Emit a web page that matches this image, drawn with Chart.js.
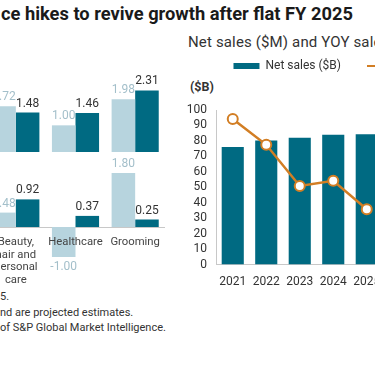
<!DOCTYPE html>
<html>
<head>
<meta charset="utf-8">
<script src="https://cdn.jsdelivr.net/npm/chart.js@4"></script>
<style>
  html, body { margin: 0; padding: 0; background: #fff; }
  body { width: 375px; height: 366px; overflow: hidden; position: relative; font-family: Roboto, "Noto Sans", sans-serif; color: #222; }
  .abs { position: absolute; white-space: nowrap; }
  #title { left: 1px; top: 3px; font-size: 18.3px; font-weight: 700; color: #1a1a1a; }
  #subtitle { left: 188px; top: 33px; font-size: 15px; letter-spacing: 0.15px; color: #333; }
  #unit { left: 190px; top: 79px; font-size: 12.5px; font-weight: 700; color: #333; }
  .note { left: 0; font-size: 11px; color: #333; }
  #topWrap { left: -14px; top: 60px; width: 179px; height: 92px; }
  #botWrap { left: -14px; top: 155px; width: 179px; height: 140px; }
  #rightWrap { left: 178px; top: 34px; width: 390px; height: 265px; }
</style>
</head>
<body>
<div id="title" class="abs">ce hikes to revive growth after flat FY 2025</div>
<div id="subtitle" class="abs">Net sales ($M) and YOY sales growth (%)</div>
<div id="unit" class="abs">($B)</div>
<div class="abs note" style="top:290px">5.</div>
<div class="abs note" style="top:305.5px">nd are projected estimates.</div>
<div class="abs note" style="top:321px">of S&amp;P Global Market Intelligence.</div>

<div id="topWrap" class="abs"><canvas id="topChart"></canvas></div>
<div id="botWrap" class="abs"><canvas id="botChart"></canvas></div>
<div id="rightWrap" class="abs"><canvas id="salesChart"></canvas></div>

<script>
// segment data (light = FY2025, dark = projection)
const segments = [['Beauty,', 'hair and', 'personal', 'care'], 'Healthcare', 'Grooming'];
const topLight = [1.72, 1.00, 1.98];
const topDark = [1.48, 1.46, 2.31];
const botLight = [0.48, -1.00, 1.80];
const botDark = [0.92, 0.37, 0.25];

// net sales + growth
const years = ['2021', '2022', '2023', '2024', '2025'];
const netSales = [76.1, 80.2, 82.0, 84.0, 84.3];
const yoyGrowth = [7.3, 5.3, 2.1, 2.5, 0.3];

const LIGHT = '#b7d4de';
const DARK = '#006a82';
const ORANGE = '#d27e24';
const FONT = 'Roboto, "Noto Sans", sans-serif';

// writes the values on the bars
const valueLabels = {
    id: 'valueLabels',
    afterDatasetsDraw(chart) {
        const ctx = chart.ctx;
        ctx.save();
        ctx.font = '12px ' + FONT;
        ctx.textAlign = 'center';
        chart.data.datasets.forEach(function (ds, i) {
            chart.getDatasetMeta(i).data.forEach(function (bar, j) {
                const v = ds.data[j];
                ctx.fillStyle = ds.labelColor;
                if (v >= 0) {
                    ctx.textBaseline = 'bottom';
                    ctx.fillText(v.toFixed(2), bar.x, bar.y - 3);
                } else {
                    ctx.textBaseline = 'top';
                    ctx.fillText(v.toFixed(2), bar.x, bar.y + 4);
                }
            });
        });
        ctx.restore();
    }
};

// category names right under the zero line (they run over the negative bar, like the original)
const zeroLabels = {
    id: 'zeroLabels',
    afterDatasetsDraw(chart) {
        const ctx = chart.ctx;
        const x = chart.scales.x;
        const y0 = chart.scales.y.getPixelForValue(0);
        ctx.save();
        ctx.font = '11.3px ' + FONT;
        ctx.fillStyle = '#444';
        ctx.textAlign = 'center';
        ctx.textBaseline = 'middle';
        chart.data.labels.forEach(function (lab, i) {
            const lines = Array.isArray(lab) ? lab : [lab];
            lines.forEach(function (line, k) {
                ctx.fillText(line, x.getPixelForTick(i), y0 + 15 + k * 12.7);
            });
        });
        ctx.restore();
    }
};

// more room between legend and plot
const legendGap = {
    id: 'legendGap',
    beforeInit(chart) {
        const legend = chart.legend;
        if (!legend) return;
        const fit = legend.fit;
        legend.fit = function () {
            fit.call(this);
            this.height += 28;
        };
    }
};

function segmentChart(id, light, dark, min, max, withNames, padBottom) {
    return new Chart(document.getElementById(id), {
        type: 'bar',
        data: {
            labels: segments,
            datasets: [
                { data: light, backgroundColor: LIGHT, labelColor: '#a3bfca', categoryPercentage: 0.79, barPercentage: 1 },
                { data: dark, backgroundColor: DARK, labelColor: '#333', categoryPercentage: 0.79, barPercentage: 1 }
            ]
        },
        options: {
            responsive: true,
            maintainAspectRatio: false,
            animation: false,
            layout: { padding: { top: 12, bottom: padBottom, left: 0, right: 0 } },
            plugins: { legend: { display: false }, tooltip: { enabled: false } },
            scales: {
                x: {
                    display: withNames,
                    position: { y: 0 },
                    grid: { display: false, drawTicks: false },
                    border: { color: '#c8c8c8' },
                    ticks: { display: false }
                },
                y: { display: false, min: min, max: max }
            }
        },
        plugins: withNames ? [valueLabels, zeroLabels] : [valueLabels]
    });
}

segmentChart('topChart', topLight, topDark, 0, 3.0, false, 0);
segmentChart('botChart', botLight, botDark, -1.0, 2.0, true, 38);

new Chart(document.getElementById('salesChart'), {
    type: 'bar',
    data: {
        labels: years,
        datasets: [
            {
                type: 'line',
                label: 'YOY sales growth (%)',
                data: yoyGrowth,
                yAxisID: 'y1',
                borderColor: ORANGE,
                backgroundColor: '#fff',
                borderWidth: 2.5,
                pointRadius: 5,
                pointBorderWidth: 2,
                pointBackgroundColor: '#fff',
                pointBorderColor: ORANGE,
                order: 0
            },
            {
                label: 'Net sales ($B)',
                data: netSales,
                backgroundColor: DARK,
                barPercentage: 0.66,
                categoryPercentage: 1,
                order: 1
            }
        ]
    },
    options: {
        responsive: true,
        maintainAspectRatio: false,
        animation: false,
        layout: { padding: 0 },
        plugins: {
            tooltip: { enabled: false },
            legend: {
                reverse: true,
                labels: {
                    usePointStyle: true,
                    pointStyleWidth: 26,
                    boxHeight: 6,
                    padding: 26,
                    color: '#333',
                    font: { family: FONT, size: 12 },
                    generateLabels: function (chart) {
                        const items = Chart.defaults.plugins.legend.labels.generateLabels(chart);
                        items.forEach(function (it) {
                            it.pointStyle = chart.data.datasets[it.datasetIndex].type === 'line' ? 'line' : 'rect';
                        });
                        return items;
                    }
                }
            }
        },
        scales: {
            x: {
                grid: { display: false, drawTicks: false },
                border: { color: '#c8c8c8' },
                ticks: { color: '#333', font: { family: FONT, size: 12 }, padding: 10 }
            },
            y: {
                min: 0,
                max: 100,
                afterFit: function (scale) { scale.width = 38; },
                grid: { display: false, drawTicks: false },
                border: { color: '#c8c8c8' },
                ticks: { color: '#333', font: { family: FONT, size: 12 }, padding: 9, stepSize: 10, autoSkip: false }
            },
            y1: {
                position: 'right',
                min: -4,
                max: 8,
                afterFit: function (scale) { scale.width = 184.5; },
                grid: { display: false, drawTicks: false },
                border: { color: '#c8c8c8' },
                ticks: { color: '#333', font: { family: FONT, size: 12 }, stepSize: 1 }
            }
        }
    },
    plugins: [legendGap]
});
</script>
</body>
</html>
